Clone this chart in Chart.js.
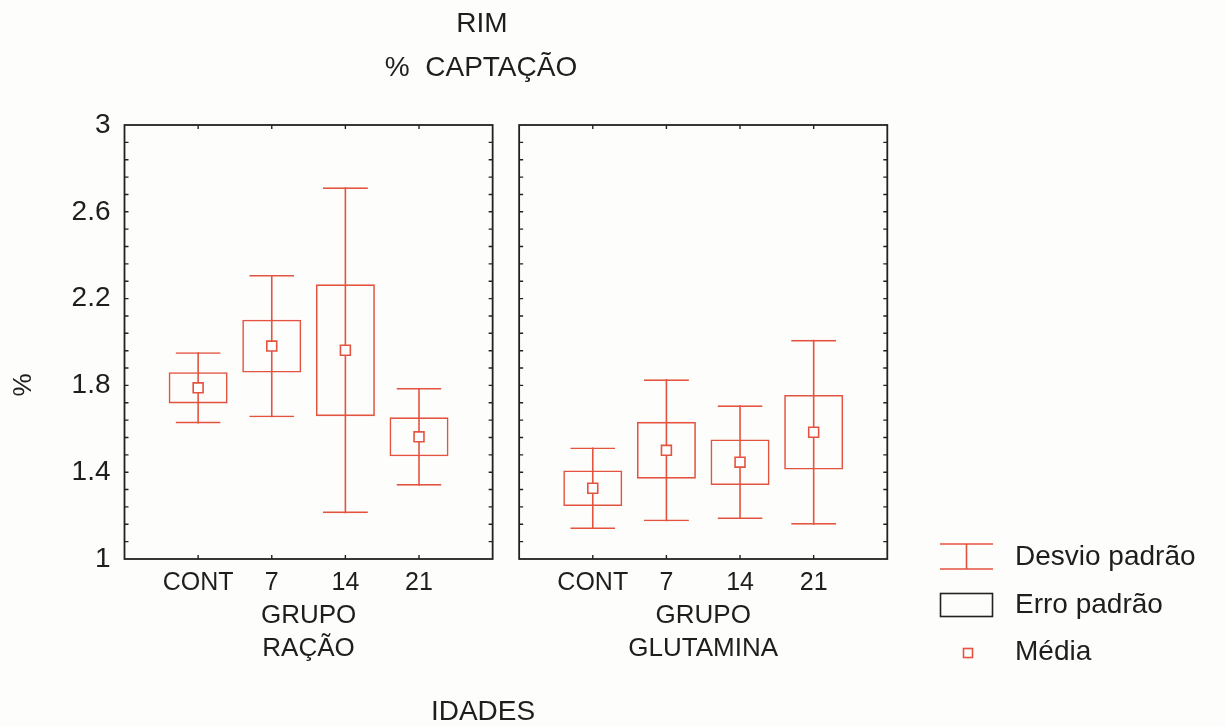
<!DOCTYPE html>
<html>
<head>
<meta charset="utf-8">
<title>RIM - % CAPTAÇÃO</title>
<script src="https://cdn.jsdelivr.net/npm/chart.js@4/dist/chart.umd.min.js"></script>
<style>
  html, body { margin: 0; padding: 0; background: #fdfdfb; }
  #wrap { width: 1226px; height: 726px; }
</style>
</head>
<body>
<div id="wrap"><canvas id="c" width="1226" height="726"></canvas></div>
<script>
// Ages on the x axis (same for both groups)
const ages = ['CONT', '7', '14', '21'];
// Group names, one per panel (two lines each)
const groupLines = [['GRUPO', 'RAÇÃO'], ['GRUPO', 'GLUTAMINA']];

// GRUPO RAÇÃO: mean, standard error, standard deviation
const racaoMean = [1.789, 1.981, 1.962, 1.563];
const racaoSE   = [0.072, 0.122, 0.304, 0.090];
const racaoSD   = [0.164, 0.328, 0.751, 0.225];

// GRUPO GLUTAMINA: mean, standard error, standard deviation
const glutMean = [1.326, 1.501, 1.446, 1.584];
const glutSE   = [0.082, 0.131, 0.105, 0.172];
const glutSD   = [0.188, 0.327, 0.262, 0.426];

// y axis tick labels
const yTicks = [1, 1.4, 1.8, 2.2, 2.6, 3];

// Legend entries
const legendLabels = ['Desvio padrão', 'Erro padrão', 'Média'];

// ---- layout of the two side-by-side panels on one linear x scale ----
const SPAN = 5;      // each panel covers 5 x-units (categories at 1..4)
const GAP = 0.36;    // space between panels, in x-units
const Y_MIN = 1, Y_MAX = 3, MINOR_STEP = 0.08;
const panelStart = p => p * (SPAN + GAP);
const xOf = (p, i) => panelStart(p) + i + 1;

const RED = '#e4533f';
const TXT = '#1e1e1e';
const FRAME = '#222222';
const FONT = "'Liberation Sans', Arial, sans-serif";

const groups = [
  { mean: racaoMean, se: racaoSE, sd: racaoSD },
  { mean: glutMean, se: glutSE, sd: glutSD }
];
const pts = [];
groups.forEach((g, p) => g.mean.forEach((m, i) => {
  pts.push({ x: xOf(p, i), m: m, se: g.se[i], sd: g.sd[i] });
}));

const meanData = pts.map(d => ({ x: d.x, y: d.m }));
const seData = pts.map(d => ({ x: d.x, y: [d.m - d.se, d.m + d.se] }));
const sdData = pts.map(d => ({ x: d.x, y: [d.m - d.sd, d.m + d.sd] }));

// Panel frames, inner tick marks, titles and legend
const decorations = {
  id: 'decorations',
  beforeDraw(chart) {
    const { ctx, width, height } = chart;
    ctx.save();
    ctx.fillStyle = '#fdfdfb';
    ctx.fillRect(0, 0, width, height);
    ctx.restore();
  },
  afterDatasetsDraw(chart) {
    const { ctx, scales: { x, y } } = chart;
    const top = y.getPixelForValue(Y_MAX);
    const bot = y.getPixelForValue(Y_MIN);
    ctx.save();
    ctx.strokeStyle = FRAME;
    ctx.lineWidth = 1.8;
    groups.forEach((g, p) => {
      const l = x.getPixelForValue(panelStart(p));
      const r = x.getPixelForValue(panelStart(p) + SPAN);
      ctx.strokeRect(l, top, r - l, bot - top);
      ctx.beginPath();
      ctx.lineWidth = 1.4;
      const n = Math.round((Y_MAX - Y_MIN) / MINOR_STEP);
      for (let k = 1; k < n; k++) {
        const py = y.getPixelForValue(Y_MIN + k * MINOR_STEP);
        ctx.moveTo(l, py); ctx.lineTo(l + 4, py);
        ctx.moveTo(r, py); ctx.lineTo(r - 4, py);
      }
      ages.forEach((a, i) => {
        const px = x.getPixelForValue(xOf(p, i));
        ctx.moveTo(px, top); ctx.lineTo(px, top + 4);
        ctx.moveTo(px, bot); ctx.lineTo(px, bot - 4);
      });
      ctx.stroke();
      ctx.lineWidth = 1.8;
    });
    ctx.restore();
  },
  afterDraw(chart) {
    const { ctx } = chart;
    ctx.save();
    ctx.fillStyle = TXT;
    ctx.textAlign = 'center';
    ctx.textBaseline = 'middle';
    // chart titles
    ctx.font = `28px ${FONT}`;
    ctx.fillText('RIM', 482, 24);
    ctx.fillText('%  CAPTAÇÃO', 481, 68);
    // x axis title
    ctx.fillText('IDADES', 483, 712);
    // y axis title
    ctx.save();
    ctx.translate(24, 385);
    ctx.rotate(-Math.PI / 2);
    ctx.font = `26px ${FONT}`;
    ctx.fillText('%', 0, 0);
    ctx.restore();

    // legend
    ctx.lineWidth = 1.6;
    ctx.strokeStyle = RED;
    ctx.beginPath();
    ctx.moveTo(940, 544); ctx.lineTo(993, 544);
    ctx.moveTo(940, 569); ctx.lineTo(993, 569);
    ctx.moveTo(966.5, 544); ctx.lineTo(966.5, 569);
    ctx.stroke();
    ctx.strokeStyle = FRAME;
    ctx.strokeRect(940.5, 593.5, 52, 23);
    ctx.strokeStyle = RED;
    ctx.fillStyle = '#ffffff';
    ctx.fillRect(963.5, 648.5, 9, 9);
    ctx.strokeRect(963.5, 648.5, 9, 9);

    ctx.fillStyle = TXT;
    ctx.textAlign = 'left';
    ctx.font = `28px ${FONT}`;
    ctx.fillText(legendLabels[0], 1015, 557);
    ctx.fillText(legendLabels[1], 1015, 605);
    ctx.fillText(legendLabels[2], 1015, 652);
    ctx.restore();
  }
};

new Chart(document.getElementById('c'), {
  type: 'bar',
  data: {
    datasets: [
      {
        type: 'line', label: legendLabels[2], data: meanData, showLine: false,
        pointStyle: 'rect', pointRadius: 7, pointHoverRadius: 7,
        pointBorderWidth: 1.6, pointBorderColor: RED, pointBackgroundColor: '#ffffff',
        order: 0
      },
      {
        label: legendLabels[1], data: seData, barThickness: 59,
        backgroundColor: 'rgba(0,0,0,0)', borderColor: RED, borderWidth: 1.6,
        borderSkipped: false, grouped: false, inflateAmount: 0, order: 1
      },
      {
        label: legendLabels[0], data: sdData, barThickness: 45,
        backgroundColor: 'rgba(0,0,0,0)', borderColor: RED,
        borderWidth: { top: 1.6, bottom: 1.6, left: 0, right: 0 },
        borderSkipped: false, grouped: false, inflateAmount: 0, order: 2
      },
      {
        label: legendLabels[0], data: sdData, barThickness: 1.6,
        backgroundColor: RED, borderWidth: 0,
        grouped: false, inflateAmount: 0, order: 3
      }
    ]
  },
  options: {
    responsive: false,
    animation: false,
    devicePixelRatio: 1,
    events: [],
    layout: { padding: { top: 125, right: 338.7, left: 0, bottom: 0 } },
    plugins: { legend: { display: false }, tooltip: { enabled: false }, title: { display: false } },
    scales: {
      x: {
        type: 'linear', position: 'bottom', offset: false,
        min: 0, max: 2 * SPAN + GAP,
        grid: { display: false, drawTicks: false }, border: { display: false },
        afterBuildTicks: s => { s.ticks = pts.map(d => ({ value: d.x })); },
        ticks: {
          autoSkip: false, maxRotation: 0, minRotation: 0, padding: 9, color: TXT,
          font: { family: FONT, size: 25 },
          callback: (v, i) => ages[i % ages.length]
        },
        afterFit: s => { s.height = 40; }
      },
      grp: {
        type: 'linear', position: 'bottom', offset: false,
        min: 0, max: 2 * SPAN + GAP,
        grid: { display: false, drawTicks: false }, border: { display: false },
        afterBuildTicks: s => { s.ticks = groupLines.map((g, p) => ({ value: panelStart(p) + SPAN / 2 })); },
        ticks: {
          autoSkip: false, maxRotation: 0, minRotation: 0, padding: 0, color: TXT,
          font: { family: FONT, size: 26, lineHeight: 1.27 },
          callback: (v, i) => groupLines[i]
        },
        afterFit: s => { s.height = 127; }
      },
      y: {
        type: 'linear', position: 'left', min: Y_MIN, max: Y_MAX, beginAtZero: false,
        grid: { display: false, drawTicks: false }, border: { display: false },
        afterBuildTicks: s => { s.ticks = yTicks.map(v => ({ value: v })); },
        ticks: {
          padding: 14, color: TXT, font: { family: FONT, size: 28 },
          callback: v => String(v)
        },
        afterFit: s => { s.width = 124.5; }
      }
    }
  },
  plugins: [decorations]
});
</script>
</body>
</html>
